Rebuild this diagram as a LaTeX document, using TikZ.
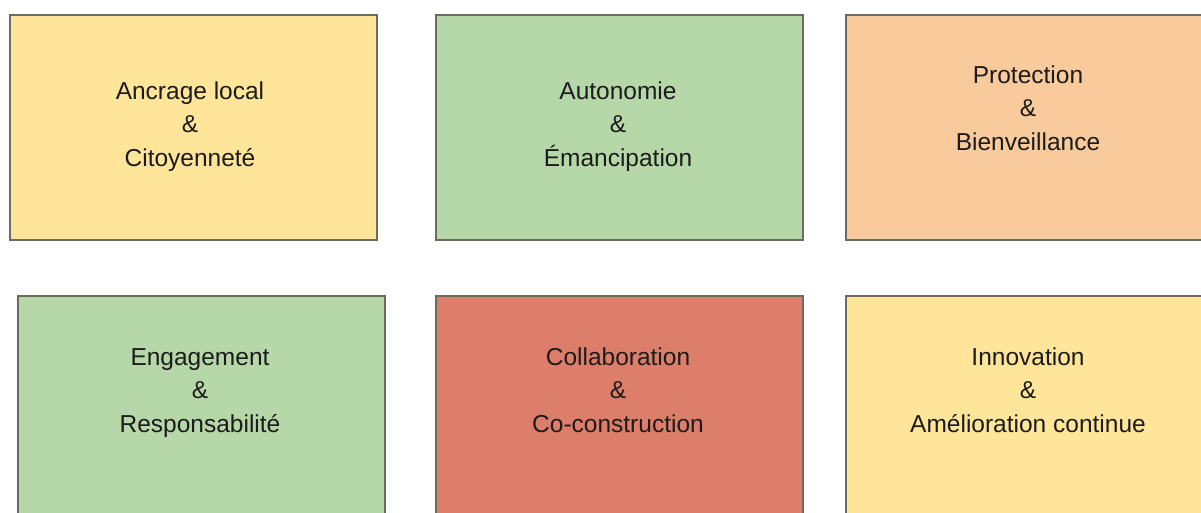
\documentclass[tikz,border=0pt]{standalone}
\usepackage{fontspec}
\setmainfont{Liberation Sans}
\definecolor{cyel}{HTML}{FFE599}
\definecolor{cgrn}{HTML}{B6D7A8}
\definecolor{corg}{HTML}{F9CB9C}
\definecolor{cred}{HTML}{DD7E6B}
\definecolor{cbord}{HTML}{6E6A60}
\definecolor{ctxt}{HTML}{1C1C1C}
\tikzset{
  card/.style={rectangle, draw=cbord, line width=1.8pt, inner sep=0pt,
    minimum width=367pt, minimum height=225pt, anchor=north west},
  lbl/.style={align=center, text=ctxt, inner sep=0pt,
    font=\fontsize{24.5}{33.5}\selectfont}
}
\begin{document}
\begin{tikzpicture}[x=1pt,y=-1pt]
\useasboundingbox (0,0) rectangle (1201,512);
\fill[white] (0,0) rectangle (1201,512);
\clip (0,0) rectangle (1201,512);
% row 1
\node[card, fill=cyel] (b1) at (9,14) {};
\node[card, fill=cgrn] (b2) at (435,14) {};
\node[card, fill=corg] (b3) at (845,14) {};
% row 2
\node[card, fill=cgrn] (b4) at (17,295) {};
\node[card, fill=cred] (b5) at (435,295) {};
\node[card, fill=cyel] (b6) at (845,295) {};
% labels
\node[lbl] (t1) at (190,126) {\strut Ancrage local\\\strut \&\\\strut Citoyenneté};
\node[lbl] (t2) at (618,126) {\strut Autonomie\\\strut \&\\\strut Émancipation};
\node[lbl] (t3) at (1028,110) {\strut Protection\\\strut \&\\\strut Bienveillance};
\node[lbl] (t4) at (200,392) {\strut Engagement\\\strut \&\\\strut Responsabilité};
\node[lbl] (t5) at (618,392) {\strut Collaboration\\\strut \&\\\strut Co-construction};
\node[lbl] (t6) at (1028,392) {\strut Innovation\\\strut \&\\\strut Amélioration continue};
\end{tikzpicture}
\end{document}
